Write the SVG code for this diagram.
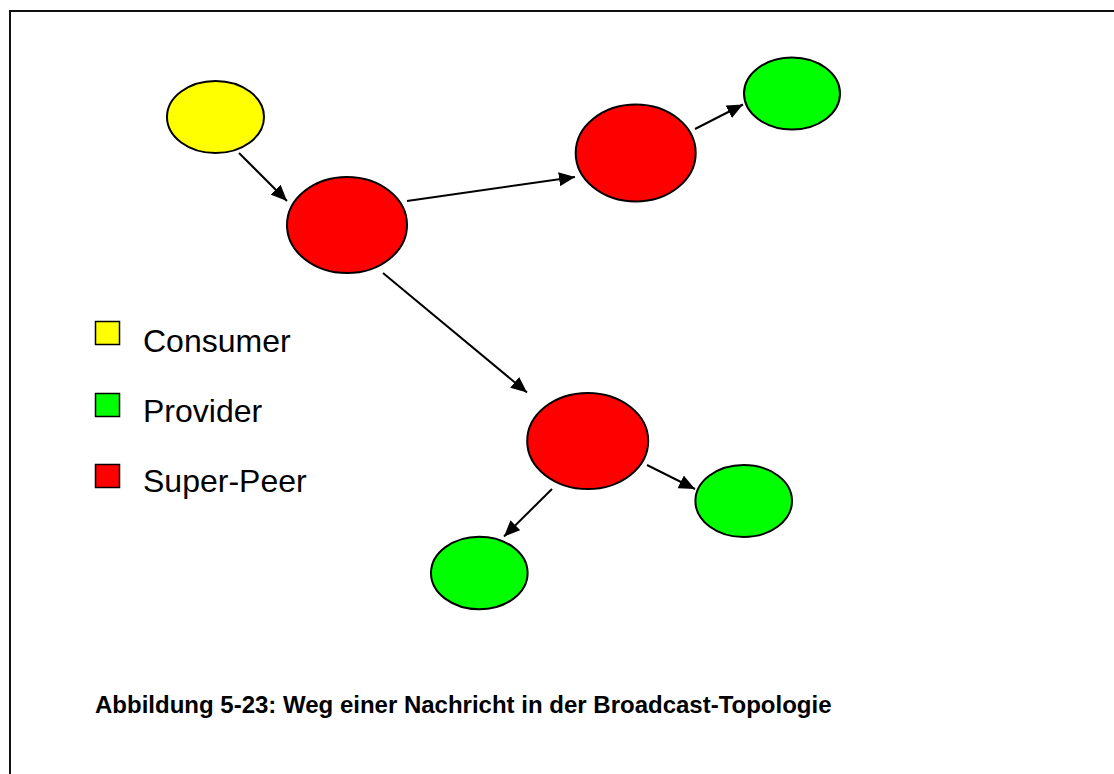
<svg xmlns="http://www.w3.org/2000/svg" width="1114" height="774" viewBox="0 0 1114 774">
  <style>
    .node { stroke: #000; stroke-width: 2; }
    .consumer { fill: #ffff00; }
    .provider { fill: #00ff00; }
    .superpeer { fill: #ff0000; }
    .edge { stroke: #000; stroke-width: 2; fill: none; marker-end: url(#arrow); }
    .legend-text { font-family: "Liberation Sans", Arial, sans-serif; font-size: 32px; fill: #000; }
    .caption { font-family: "Liberation Sans", Arial, sans-serif; font-size: 24px; font-weight: bold; fill: #000; }
    .swatch { stroke: #000; stroke-width: 1.5; }
  </style>
  <defs>
    <marker id="arrow" viewBox="0 0 16 14" refX="16" refY="7" markerWidth="16" markerHeight="14" markerUnits="userSpaceOnUse" orient="auto">
      <path d="M0,0 L16,7 L0,14 Z" fill="#000"/>
    </marker>
  </defs>

  <rect width="1114" height="774" fill="#fff"/>
  <!-- frame -->
  <rect x="10" y="11" width="1120" height="780" fill="none" stroke="#111" stroke-width="2"/>

  <!-- connectors -->
  <g id="connectors">
    <line class="edge" x1="239" y1="153" x2="287" y2="201"/>
    <line class="edge" x1="407" y1="201" x2="575" y2="177"/>
    <line class="edge" x1="695" y1="129" x2="743" y2="104.5"/>
    <line class="edge" x1="383" y1="273" x2="527" y2="392.5"/>
    <line class="edge" x1="647" y1="465" x2="695" y2="489"/>
    <line class="edge" x1="552" y1="489" x2="504" y2="536.5"/>
  </g>

  <!-- nodes -->
  <g id="consumer">
    <ellipse class="node consumer" cx="215.5" cy="117" rx="48.5" ry="36"/>
  </g>
  <g id="superpeer-1">
    <ellipse class="node superpeer" cx="347" cy="225" rx="60" ry="48"/>
  </g>
  <g id="superpeer-2">
    <ellipse class="node superpeer" cx="635.7" cy="153" rx="60" ry="48.5"/>
  </g>
  <g id="provider-1">
    <ellipse class="node provider" cx="792" cy="93.5" rx="48" ry="36"/>
  </g>
  <g id="superpeer-3">
    <ellipse class="node superpeer" cx="587.7" cy="441" rx="60.5" ry="48"/>
  </g>
  <g id="provider-2">
    <ellipse class="node provider" cx="743.7" cy="501" rx="48.3" ry="36"/>
  </g>
  <g id="provider-3">
    <ellipse class="node provider" cx="479.3" cy="573" rx="48.3" ry="36.3"/>
  </g>

  <!-- legend -->
  <g id="legend">
    <rect class="swatch consumer" x="95.5" y="321.5" width="24" height="23"/>
    <text class="legend-text" x="143" y="352">Consumer</text>
    <rect class="swatch provider" x="95.5" y="393.5" width="24" height="23"/>
    <text class="legend-text" x="143" y="422">Provider</text>
    <rect class="swatch superpeer" x="95.5" y="464.5" width="24" height="23"/>
    <text class="legend-text" x="143" y="492">Super-Peer</text>
  </g>

  <!-- caption -->
  <text class="caption" x="95" y="713">Abbildung 5-23: Weg einer Nachricht in der Broadcast-Topologie</text>
</svg>
